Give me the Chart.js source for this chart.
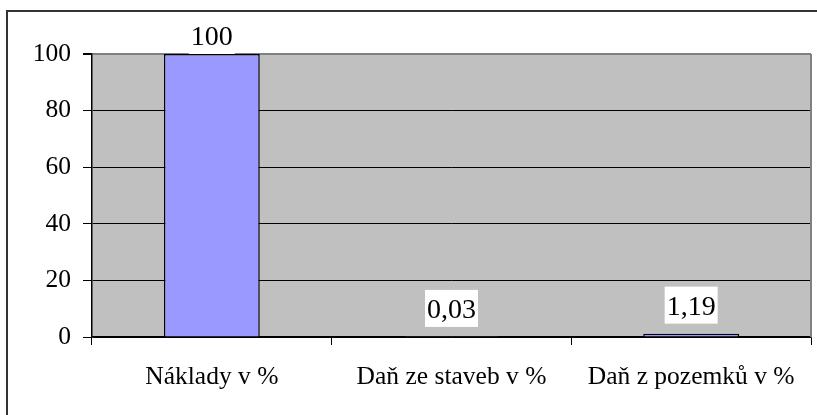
<!DOCTYPE html>
<html lang="cs">
<head>
  <meta charset="UTF-8">
  <title>Náklady a daně</title>
  <script src="https://cdn.jsdelivr.net/npm/chart.js"></script>
  <style>
    html, body {
      margin: 0;
      padding: 0;
      background: #fff;
    }
    #chart {
      position: absolute;
      left: 0;
      top: 0;
    }
    .frame {
      position: absolute;
      z-index: 2;
      left: 6px;
      top: 10px;
      width: 820px;
      height: 420px;
      border-left: 2px solid #333;
      border-top: 2px solid #333;
    }
  </style>
</head>
<body>
<canvas id="chart" width="817" height="415"></canvas>
<div class="frame"></div>

<script>
  // data
  const categories = ['Náklady v %', 'Daň ze staveb v %', 'Daň z pozemků v %'];
  const values = [100, 0.03, 1.19];
  const valueLabels = ['100', '0,03', '1,19'];
  const yTicks = [0, 20, 40, 60, 80, 100];

  const font = '"Liberation Serif", "Times New Roman", serif';

  // grey plot background + grey right edge of the plot area
  const plotArea = {
    id: 'plotArea',
    beforeDraw(chart) {
      const { ctx, chartArea: a } = chart;
      ctx.save();
      ctx.fillStyle = '#c0c0c0';
      ctx.fillRect(a.left, a.top, a.right - a.left, a.bottom - a.top);
      ctx.restore();
    },
    afterDraw(chart) {
      const { ctx, chartArea: a } = chart;
      ctx.save();
      ctx.strokeStyle = '#808080';
      ctx.lineWidth = 2;
      ctx.beginPath();
      ctx.moveTo(a.right, a.top);
      ctx.lineTo(a.right, a.bottom);
      ctx.stroke();
      ctx.restore();
    }
  };

  // value labels with white box, above each bar
  const barLabels = {
    id: 'barLabels',
    afterDatasetsDraw(chart) {
      const { ctx, chartArea } = chart;
      const meta = chart.getDatasetMeta(0);
      ctx.save();
      ctx.font = '28px ' + font;
      ctx.textAlign = 'center';
      ctx.textBaseline = 'alphabetic';
      meta.data.forEach((bar, i) => {
        const txt = valueLabels[i];
        const w = ctx.measureText(txt).width + 4;
        // keep the label from running off the top (as the tall bar's label does)
        const base = Math.max(bar.y - 19, chartArea.top - 9);
        ctx.fillStyle = '#fff';
        ctx.fillRect(bar.x - w / 2, base - 28, w, 37);
        ctx.fillStyle = '#000';
        ctx.fillText(txt, bar.x, base);
      });
      ctx.restore();
    }
  };

  new Chart(document.getElementById('chart'), {
    type: 'bar',
    data: {
      labels: categories,
      datasets: [{
        data: values,
        backgroundColor: '#9999ff',
        borderColor: '#000',
        borderWidth: 1.5,
        barPercentage: 0.4,
        categoryPercentage: 1.0
      }]
    },
    options: {
      responsive: false,
      animation: false,
      devicePixelRatio: 1,
      layout: { padding: { left: 0, top: 54, right: 6, bottom: 0 } },
      plugins: {
        legend: { display: false },
        tooltip: { enabled: false }
      },
      scales: {
        x: {
          grid: {
            offset: true,
            drawOnChartArea: false,
            drawTicks: true,
            tickLength: 8,
            tickColor: '#000',
            tickWidth: 1
          },
          border: { color: '#000', width: 1.5 },
          ticks: {
            color: '#000',
            padding: 17,
            font: { family: font, size: 25.5 }
          },
          afterFit(scale) { scale.height = 78; }
        },
        y: {
          min: 0,
          max: 100,
          afterBuildTicks(scale) {
            scale.ticks = yTicks.map(v => ({ value: v }));
          },
          grid: {
            color: ctx => ctx.tick && ctx.tick.value === 100 ? '#808080' : '#000',
            lineWidth: ctx => ctx.tick && ctx.tick.value === 100 ? 2 : 1,
            tickColor: '#000',
            tickLength: 9
          },
          border: { color: '#000', width: 1.5 },
          ticks: {
            color: '#000',
            padding: 12,
            font: { family: font, size: 25.5 }
          },
          afterFit(scale) { scale.width = 92; }
        }
      }
    },
    plugins: [plotArea, barLabels]
  });
</script>
</body>
</html>
